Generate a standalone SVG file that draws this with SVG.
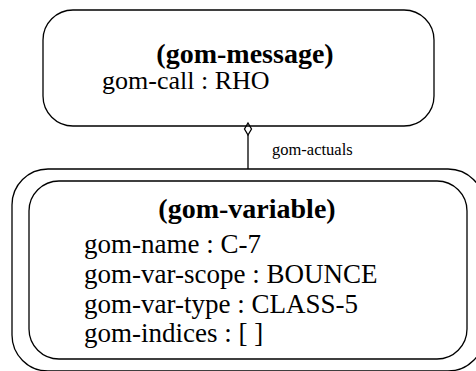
<svg xmlns="http://www.w3.org/2000/svg" width="476" height="371" viewBox="0 0 476 371">
<style>
.box{fill:none;stroke:#000;stroke-width:1.3}
.t{font-family:"Liberation Serif","Times New Roman",serif;font-size:27px;fill:#000}
.b{font-weight:bold;text-anchor:middle;font-size:28px}
.s{font-size:16.5px}
.ln{stroke:#000;stroke-width:1.3;fill:none}
</style>
<rect width="476" height="371" fill="#fff"/>
<g id="gom-message">
<rect class="box" x="43" y="10" width="391" height="116" rx="30" ry="30"/>
<text class="t b" x="245" y="63">(gom-message)</text>
<text class="t" x="102" y="89" style="font-size:26px">gom-call : RHO</text>
</g>
<g id="connectors">
<path class="ln" d="M248 123 L251.5 129 L248 135 L244.5 129 Z"/>
<line class="ln" x1="248" y1="135" x2="248" y2="169"/>
<text class="t s" x="272" y="155">gom-actuals</text>
</g>
<g id="gom-variable">
<rect class="box" x="12" y="169" width="472" height="202" rx="36" ry="36"/>
<rect class="box" x="29" y="181" width="438" height="178" rx="30" ry="30"/>
<text class="t b" x="247" y="218">(gom-variable)</text>
<text class="t" x="84" y="253">gom-name : C-7</text>
<text class="t" x="84" y="283">gom-var-scope : BOUNCE</text>
<text class="t" x="84" y="313">gom-var-type : CLASS-5</text>
<text class="t" x="84" y="342">gom-indices : [ ]</text>
</g>
</svg>
